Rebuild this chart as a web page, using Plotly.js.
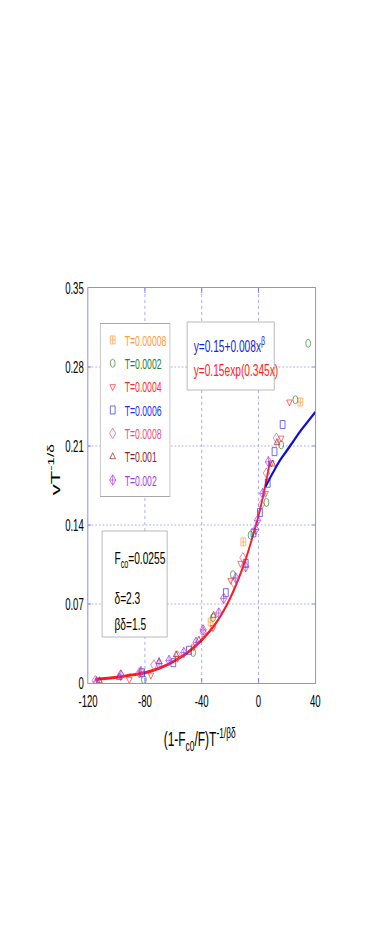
<!DOCTYPE html>
<html>
<head>
<meta charset="utf-8">
<script src="https://cdn.plot.ly/plotly-3.0.1.min.js"></script>
<style>
html,body{margin:0;padding:0;background:#fff;overflow:hidden;}
#wrap{width:392px;height:941px;overflow:hidden;}
#plot{width:654px;height:941px;transform:scaleX(0.599388);transform-origin:0 0;}
</style>
</head>
<body>
<div id="wrap"><div id="plot"></div></div>
<script>
// ---- data ----
const seriesNames = ['T=0.00008','T=0.0002','T=0.0004','T=0.0006','T=0.0008','T=0.001','T=0.002'];
const seriesColors = ['#ff9a40','#2a7f2a','#ff2a2a','#2a2aee','#e8507e','#8e1e1e','#a83ae8'];
const seriesSymbols = ['square-cross-open','circle-open','triangle-down-open','square-open','diamond-open','triangle-up-open','diamond-cross-open'];

const xT00008 = [-33.7, -10.7, 29.5];
const yT00008 = [0.054, 0.125, 0.249];
const xT0002 = [-80.7, -46, -32, -18, -5.6, 5.6, 16, 26, 35];
const yT0002 = [0.003, 0.027, 0.058, 0.096, 0.131, 0.160, 0.211, 0.251, 0.301];
const xT0004 = [-91, -75.8, -57, -45.6, -32, -19.6, -12.6, 5, 9, 16, 21.8];
const yT0004 = [0.003, 0.007, 0.022, 0.032, 0.049, 0.091, 0.106, 0.168, 0.195, 0.217, 0.249];
const xT0006 = [-82, -60, -49, -23, -9, -3.5, 1, 6.5, 11.3, 17];
const yT0006 = [0.009, 0.018, 0.029, 0.080, 0.106, 0.133, 0.151, 0.177, 0.205, 0.229];
const xT0008 = [-115, -97, -84, -73.7, -57, -39, -17.5, -11, 2, 5.6, 12.6];
const yT0008 = [0.002, 0.007, 0.009, 0.016, 0.024, 0.045, 0.089, 0.111, 0.158, 0.186, 0.217];
const xT001 = [-112, -98, -70, -58, -42, -31.6, 10, 13];
const yT001 = [0.002, 0.005, 0.019, 0.025, 0.038, 0.060, 0.194, 0.213];
const xT002 = [-114, -97, -82.8, -70, -63, -52.6, -44, -39, -28, -24.5, -16, -9, -2, -0.7, 3, 7];
const yT002 = [0.001, 0.007, 0.010, 0.017, 0.020, 0.027, 0.036, 0.047, 0.062, 0.075, 0.093, 0.103, 0.136, 0.144, 0.168, 0.196];

// fitted curves
const xExpFit = [-115, -100, -90, -80, -70, -60, -50, -40, -30, -20, -10, -5, 0, 5, 8];
const yExpFit = [0.003, 0.005, 0.007, 0.009, 0.013, 0.019, 0.027, 0.038, 0.053, 0.075, 0.106, 0.126, 0.148, 0.176, 0.196];
const xPowFit = [5, 10, 15, 20, 25, 30, 35, 40];
const yPowFit = [0.174, 0.186, 0.197, 0.206, 0.215, 0.224, 0.232, 0.240];

const xTickVals = [-120, -80, -40, 0, 40];
const xTickText = ['-120', '-80', '-40', '0', '40'];
const yTickVals = [0, 0.07, 0.14, 0.21, 0.28, 0.35];
const yTickText = ['0', '0.07', '0.14', '0.21', '0.28', '0.35'];

const xTitle = '(1-F<sub>c0</sub>/F)T<sup>-1/βδ</sup>';
const yTitle = 'vT<sup>-1/δ</sup>';
const fitText1 = 'y=0.15+0.008x<sup>β</sup>';
const fitText2 = 'y=0.15exp(0.345x)';
const paramText = ['F<sub>co</sub>=0.0255', 'δ=2.3', 'βδ=1.5'];

// ---- build ----
const seriesX = [xT00008, xT0002, xT0004, xT0006, xT0008, xT001, xT002];
const seriesY = [yT00008, yT0002, yT0004, yT0006, yT0008, yT001, yT002];

const traces = [];
traces.push({x: xExpFit, y: yExpFit, mode: 'lines', line: {color: '#ff1a1a', width: 3, shape: 'spline'}, showlegend: false});
traces.push({x: xPowFit, y: yPowFit, mode: 'lines', line: {color: '#1010d0', width: 3, shape: 'spline'}, showlegend: false});
for (let i = 0; i < seriesNames.length; i++) {
  traces.push({
    x: seriesX[i], y: seriesY[i], mode: 'markers', type: 'scatter',
    name: '<span style="color:' + seriesColors[i] + '">' + seriesNames[i] + '</span>',
    legendgroup: 'g' + i,
    marker: {symbol: seriesSymbols[i], size: 8, color: seriesColors[i], opacity: 0.85, line: {color: seriesColors[i], width: 1}}
  });
}

const S = 0.599388;
const W = 654, H = 941;
const boxLine = {color: '#a8a8a8', width: 1};
const px = v => (v - 88) / 227;
const py = v => (683 - v) / 395;

const axisCommon = {
  showline: true, linecolor: '#7070f0', linewidth: 1, mirror: 'ticks',
  ticks: 'inside', ticklen: 5, tickcolor: '#7070f0', tickwidth: 1,
  showgrid: true, gridcolor: '#9a9af2', gridwidth: 1, griddash: 'dot',
  zeroline: false,
  tickfont: {family: 'Liberation Sans, Arial, sans-serif', size: 16, color: '#000'}
};

const layout = {
  width: W, height: H,
  margin: {l: 88 / S, r: (392 - 315) / S, t: 288, b: 941 - 683, pad: 0},
  paper_bgcolor: '#fff', plot_bgcolor: '#fff',
  font: {family: 'Liberation Sans, Arial, sans-serif', color: '#000'},
  xaxis: Object.assign({}, axisCommon, {
    range: [-120, 40], tickmode: 'array', tickvals: xTickVals, ticktext: xTickText,
    ticklabelstandoff: 4
  }),
  yaxis: Object.assign({}, axisCommon, {
    range: [0, 0.35], tickmode: 'array', tickvals: yTickVals, ticktext: yTickText,
    ticklabelstandoff: 3
  }),
  showlegend: true,
  legend: {
    x: px(100), y: py(323), xanchor: 'left', yanchor: 'top',
    bgcolor: '#fff', bordercolor: '#a8a8a8', borderwidth: 1,
    font: {family: 'Liberation Sans Narrow, Arial Narrow, sans-serif', size: 14.5},
    tracegroupgap: 1.5
  },
  shapes: [
    {type: 'rect', xref: 'paper', yref: 'paper', x0: px(187), x1: px(274), y0: py(390), y1: py(322), line: boxLine, fillcolor: '#fff', layer: 'above'},
    {type: 'rect', xref: 'paper', yref: 'paper', x0: px(102), x1: px(167), y0: py(637), y1: py(531), line: boxLine, fillcolor: '#fff', layer: 'above'}
  ],
  annotations: [
    {xref: 'paper', yref: 'paper', x: px(200), y: py(739), xanchor: 'center', yanchor: 'middle', showarrow: false, text: xTitle, font: {size: 20, color: '#000'}},
    {xref: 'paper', yref: 'paper', x: px(54), y: py(470), xanchor: 'center', yanchor: 'middle', showarrow: false, textangle: -90, text: yTitle, font: {size: 22, color: '#000'}},
    {xref: 'paper', yref: 'paper', x: px(192), y: py(345), xanchor: 'left', yanchor: 'middle', showarrow: false, text: fitText1, font: {size: 17, color: '#2020e0'}},
    {xref: 'paper', yref: 'paper', x: px(192), y: py(370), xanchor: 'left', yanchor: 'middle', showarrow: false, text: fitText2, font: {size: 17, color: '#ff2020'}},
    {xref: 'paper', yref: 'paper', x: px(113), y: py(560), xanchor: 'left', yanchor: 'middle', showarrow: false, text: paramText[0], font: {size: 17, color: '#000'}},
    {xref: 'paper', yref: 'paper', x: px(113), y: py(598), xanchor: 'left', yanchor: 'middle', showarrow: false, text: paramText[1], font: {size: 17, color: '#000'}},
    {xref: 'paper', yref: 'paper', x: px(113), y: py(624), xanchor: 'left', yanchor: 'middle', showarrow: false, text: paramText[2], font: {size: 17, color: '#000'}}
  ]
};

Plotly.newPlot('plot', traces, layout, {staticPlot: true, displayModeBar: false, responsive: false});
</script>
</body>
</html>
